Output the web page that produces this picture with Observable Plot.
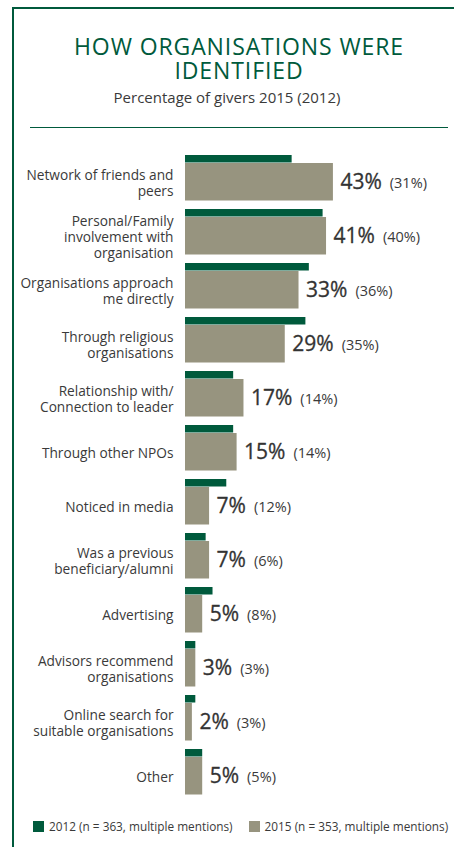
<!DOCTYPE html>
<html>
<head>
<meta charset="utf-8">
<script src="https://cdn.jsdelivr.net/npm/d3@7"></script>
<script src="https://cdn.jsdelivr.net/npm/@observablehq/plot@0.6"></script>
<style>
  html, body { margin: 0; padding: 0; background: #fff; }
  body { width: 454px; height: 847px; position: relative; overflow: hidden; font-family: "Open Sans", Lato, sans-serif; color: #3a3a3a; }
  #frame { position: absolute; left: 12px; top: 7px; width: 460px; height: 860px; border-left: 2px solid #005a3c; border-top: 2px solid #005a3c; }
  #title { position: absolute; left: 14px; width: 450px; top: 34px; text-align: center; color: #005a3c; font-size: 23px; line-height: 24px; letter-spacing: 0.9px; }
  #subtitle { position: absolute; left: 0; width: 454px; top: 87px; text-align: center; font-size: 15px; color: #3a3a3a; }
  #rule { position: absolute; left: 30px; width: 418px; top: 127px; border-top: 1.3px solid #005a3c; }
  #chart { position: absolute; left: 0; top: 135px; }
  #legend { position: absolute; left: 33px; top: 818px; font-size: 11.8px; color: #3a3a3a; white-space: nowrap; }
  #legend span.sw { display: inline-block; width: 11px; height: 11px; vertical-align: -1px; margin-right: 5px; }
</style>
</head>
<body>
<div id="frame"></div>
<div id="title">HOW ORGANISATIONS WERE<br>IDENTIFIED</div>
<div id="subtitle">Percentage of givers 2015 (2012)</div>
<div id="rule"></div>
<div id="chart"></div>
<div id="legend"></div>
<script>
const categories = [
  "Network of friends and\npeers",
  "Personal/Family\ninvolvement with\norganisation",
  "Organisations approach\nme directly",
  "Through religious\norganisations",
  "Relationship with/\nConnection to leader",
  "Through other NPOs",
  "Noticed in media",
  "Was a previous\nbeneficiary/alumni",
  "Advertising",
  "Advisors recommend\norganisations",
  "Online search for\nsuitable organisations",
  "Other"
];
const values2015 = [43, 41, 33, 29, 17, 15, 7, 7, 5, 3, 2, 5];
const values2012 = [31, 40, 36, 35, 14, 14, 12, 6, 8, 3, 3, 5];
const seriesLabels = ["2012 (n = 363, multiple mentions)", "2015 (n = 353, multiple mentions)"];
const colors = ["#005a3c", "#97947f"];

const data = categories.map((c, i) => ({cat: c, v2015: values2015[i], v2012: values2012[i]}));

const font = "'Open Sans', Lato, sans-serif";
const plot = Plot.plot({
  width: 454,
  height: 672,
  marginLeft: 185,
  marginRight: 0,
  marginTop: 13.3,
  marginBottom: 4.7,
  style: {fontFamily: font, background: "transparent", overflow: "visible"},
  x: {domain: [0, 78.2], axis: null},
  y: {domain: categories, axis: null, padding: 0},
  marks: [
    Plot.barX(data, {y: "cat", x: "v2012", fill: colors[0], insetTop: 4, insetBottom: 42.5}),
    Plot.barX(data, {y: "cat", x: "v2015", fill: colors[1], insetTop: 12, insetBottom: 4.5}),
    Plot.text(data, {y: "cat", x: 0, text: "cat", textAnchor: "end", dx: -12, dy: 4, fontSize: 13.7, fill: "#3a3a3a", lineHeight: 1.17}),
    Plot.text(data, {y: "cat", x: "v2015", text: d => d.v2015 + "%", textAnchor: "start", dx: 7, dy: 4, fontSize: 21, fill: "#333", stroke: "#333", strokeWidth: 0.3}),
    Plot.text(data, {y: "cat", x: "v2015", text: d => "(" + d.v2012 + "%)", textAnchor: "start", dx: 7, dy: 5, fontSize: 14.5, fill: "#3a3a3a"})
  ]
});
document.getElementById("chart").appendChild(plot);

// shift the bracketed 2012 values to sit after the big 2015 values
const textGroups = plot.querySelectorAll('g[aria-label="text"]');
const bigs = textGroups[1].querySelectorAll("text");
const smalls = textGroups[2].querySelectorAll("text");
smalls.forEach((t, i) => {
  const w = bigs[i].getComputedTextLength();
  const cur = t.getAttribute("transform") || "";
  t.setAttribute("transform", cur + ` translate(${w + 8},0)`);
});

const legend = document.getElementById("legend");
legend.innerHTML = seriesLabels.map((l, i) =>
  `<span class="sw" style="background:${colors[i]}"></span><span style="margin-right:${i === 0 ? 16 : 0}px">${l}</span>`
).join("");
</script>
</body>
</html>
